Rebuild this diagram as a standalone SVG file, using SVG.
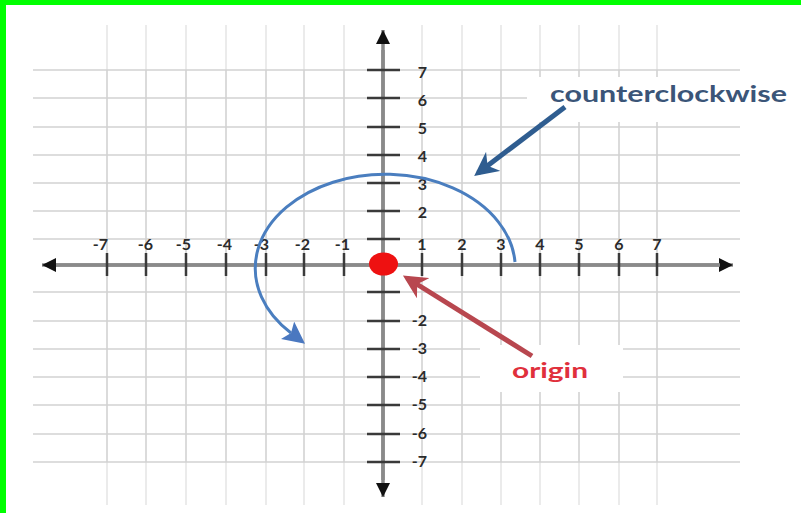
<svg xmlns="http://www.w3.org/2000/svg" width="801" height="513" viewBox="0 0 801 513">
<defs>
<style>
.grid line{stroke:#d2d2d2;stroke-width:1.6}
.gridx line{stroke:#e6e6e6;stroke-width:1.6}
.axis{stroke:#8a8a8a;stroke-width:3.5}
.tick line{stroke:#3a3a3a;stroke-width:2.5}
.num{font-family:Lato,"Liberation Sans",sans-serif;font-weight:700;font-size:16px;fill:#2b2b2b}
.lbl{font-family:Lato,"Liberation Sans",sans-serif;font-weight:700}
</style>
<marker id="axhead" viewBox="0 0 10 10" refX="10" refY="5" markerWidth="16" markerHeight="14" markerUnits="userSpaceOnUse" orient="auto"><path d="M0,0 L10,5 L0,10 Z" fill="#111"/></marker>
<marker id="bluehead" viewBox="0 0 10 10" refX="2" refY="5" markerWidth="22" markerHeight="22" markerUnits="userSpaceOnUse" orient="auto"><path d="M0,0 L10,5 L0,10 L2,5 Z" fill="#4a78c0"/></marker>
<marker id="navyhead" viewBox="0 0 10 10" refX="8" refY="5" markerWidth="24" markerHeight="24" markerUnits="userSpaceOnUse" orient="auto"><path d="M0,0 L10,5 L0,10 L3,5 Z" fill="#2f5d90"/></marker>
<marker id="redhead" viewBox="0 0 10 10" refX="8" refY="5" markerWidth="24" markerHeight="24" markerUnits="userSpaceOnUse" orient="auto"><path d="M0,0 L10,5 L0,10 L3,5 Z" fill="#b8474f"/></marker>
</defs>
<rect x="0" y="0" width="801" height="513" fill="#ffffff"/>
<rect x="0" y="0" width="801" height="5" fill="#00ff00"/>
<rect x="0" y="0" width="6" height="513" fill="#00ff00"/>

<g id="grid">
<g class="gridx">
<line x1="107" y1="25" x2="107" y2="70"/><line x1="146" y1="25" x2="146" y2="70"/><line x1="186" y1="25" x2="186" y2="70"/><line x1="226" y1="25" x2="226" y2="70"/><line x1="266" y1="25" x2="266" y2="70"/><line x1="304" y1="25" x2="304" y2="70"/><line x1="344" y1="25" x2="344" y2="70"/><line x1="422" y1="25" x2="422" y2="70"/><line x1="462" y1="25" x2="462" y2="70"/><line x1="501" y1="25" x2="501" y2="70"/><line x1="540" y1="25" x2="540" y2="70"/><line x1="579" y1="25" x2="579" y2="70"/><line x1="619" y1="25" x2="619" y2="70"/><line x1="657" y1="25" x2="657" y2="70"/>
<line x1="107" y1="462" x2="107" y2="505"/><line x1="146" y1="462" x2="146" y2="505"/><line x1="186" y1="462" x2="186" y2="505"/><line x1="226" y1="462" x2="226" y2="505"/><line x1="266" y1="462" x2="266" y2="505"/><line x1="304" y1="462" x2="304" y2="505"/><line x1="344" y1="462" x2="344" y2="505"/><line x1="422" y1="462" x2="422" y2="505"/><line x1="462" y1="462" x2="462" y2="505"/><line x1="501" y1="462" x2="501" y2="505"/><line x1="540" y1="462" x2="540" y2="505"/><line x1="579" y1="462" x2="579" y2="505"/><line x1="619" y1="462" x2="619" y2="505"/><line x1="657" y1="462" x2="657" y2="505"/>
</g>
<g class="grid">
<line x1="107" y1="70" x2="107" y2="462"/><line x1="146" y1="70" x2="146" y2="462"/><line x1="186" y1="70" x2="186" y2="462"/><line x1="226" y1="70" x2="226" y2="462"/><line x1="266" y1="70" x2="266" y2="462"/><line x1="304" y1="70" x2="304" y2="462"/><line x1="344" y1="70" x2="344" y2="462"/><line x1="422" y1="70" x2="422" y2="462"/><line x1="462" y1="70" x2="462" y2="462"/><line x1="501" y1="70" x2="501" y2="462"/><line x1="540" y1="70" x2="540" y2="462"/><line x1="579" y1="70" x2="579" y2="462"/><line x1="619" y1="70" x2="619" y2="462"/><line x1="657" y1="70" x2="657" y2="462"/>
<line x1="33" y1="70" x2="740" y2="70"/><line x1="33" y1="98" x2="740" y2="98"/><line x1="33" y1="127" x2="740" y2="127"/><line x1="33" y1="155" x2="740" y2="155"/><line x1="33" y1="183" x2="740" y2="183"/><line x1="33" y1="211" x2="740" y2="211"/><line x1="33" y1="239" x2="740" y2="239"/>
<line x1="33" y1="292" x2="740" y2="292"/><line x1="33" y1="321" x2="740" y2="321"/><line x1="33" y1="349" x2="740" y2="349"/><line x1="33" y1="377" x2="740" y2="377"/><line x1="33" y1="405" x2="740" y2="405"/><line x1="33" y1="434" x2="740" y2="434"/><line x1="33" y1="462" x2="740" y2="462"/>
</g>
</g>

<g id="axes">
<line class="axis" x1="50" y1="265" x2="733" y2="265" marker-end="url(#axhead)"/>
<line class="axis" x1="720" y1="265" x2="42" y2="265" marker-end="url(#axhead)"/>
<line class="axis" x1="383" y1="480" x2="383" y2="30" marker-end="url(#axhead)"/>
<line class="axis" x1="383" y1="50" x2="383" y2="497" marker-end="url(#axhead)"/>
<g class="tick">
<line x1="107" y1="253" x2="107" y2="276"/><line x1="146" y1="253" x2="146" y2="276"/><line x1="186" y1="253" x2="186" y2="276"/><line x1="226" y1="253" x2="226" y2="276"/><line x1="266" y1="253" x2="266" y2="276"/><line x1="304" y1="253" x2="304" y2="276"/><line x1="344" y1="253" x2="344" y2="276"/><line x1="422" y1="253" x2="422" y2="276"/><line x1="462" y1="253" x2="462" y2="276"/><line x1="501" y1="253" x2="501" y2="276"/><line x1="540" y1="253" x2="540" y2="276"/><line x1="579" y1="253" x2="579" y2="276"/><line x1="619" y1="253" x2="619" y2="276"/><line x1="657" y1="253" x2="657" y2="276"/>
<line x1="367" y1="70" x2="400" y2="70"/><line x1="367" y1="98" x2="400" y2="98"/><line x1="367" y1="127" x2="400" y2="127"/><line x1="367" y1="155" x2="400" y2="155"/><line x1="367" y1="183" x2="400" y2="183"/><line x1="367" y1="211" x2="400" y2="211"/><line x1="367" y1="239" x2="400" y2="239"/>
<line x1="367" y1="292" x2="400" y2="292"/><line x1="367" y1="321" x2="400" y2="321"/><line x1="367" y1="349" x2="400" y2="349"/><line x1="367" y1="377" x2="400" y2="377"/><line x1="367" y1="405" x2="400" y2="405"/><line x1="367" y1="434" x2="400" y2="434"/><line x1="367" y1="462" x2="400" y2="462"/>
</g>
</g>

<g id="axis-labels" class="num">
<text x="108" y="250" text-anchor="end">-7</text>
<text x="153" y="250" text-anchor="end">-6</text>
<text x="191" y="250" text-anchor="end">-5</text>
<text x="232" y="250" text-anchor="end">-4</text>
<text x="269" y="250" text-anchor="end">-3</text>
<text x="310" y="250" text-anchor="end">-2</text>
<text x="350" y="250" text-anchor="end">-1</text>
<text x="422" y="250" text-anchor="middle">1</text>
<text x="462" y="250" text-anchor="middle">2</text>
<text x="501" y="250" text-anchor="middle">3</text>
<text x="540" y="250" text-anchor="middle">4</text>
<text x="579" y="250" text-anchor="middle">5</text>
<text x="619" y="250" text-anchor="middle">6</text>
<text x="657" y="250" text-anchor="middle">7</text>
<text x="427" y="78" text-anchor="end">7</text>
<text x="427" y="106" text-anchor="end">6</text>
<text x="427" y="134" text-anchor="end">5</text>
<text x="427" y="162" text-anchor="end">4</text>
<text x="427" y="190" text-anchor="end">3</text>
<text x="427" y="218" text-anchor="end">2</text>
<text x="427" y="326" text-anchor="end">-2</text>
<text x="427" y="354" text-anchor="end">-3</text>
<text x="427" y="382" text-anchor="end">-4</text>
<text x="427" y="410" text-anchor="end">-5</text>
<text x="427" y="439" text-anchor="end">-6</text>
<text x="427" y="467" text-anchor="end">-7</text>
</g>

<g id="connectors">
<path d="M 515 262 A 130 94 0 1 0 291 333" fill="none" stroke="#4a7ebf" stroke-width="3" marker-end="url(#bluehead)"/>
</g>

<g id="origin-dot">
<ellipse cx="383.5" cy="264" rx="14.5" ry="11.5" fill="#ee1111"/>
</g>

<g id="label-counterclockwise">
<rect x="527" y="77" width="272" height="45" fill="#ffffff"/>
<text class="lbl" x="550" y="102" font-size="22" fill="#3b5578" textLength="237" lengthAdjust="spacingAndGlyphs">counterclockwise</text>
</g>

<g id="label-origin">
<rect x="480" y="345" width="143" height="47" fill="#ffffff"/>
<text class="lbl" x="512" y="378" font-size="21" fill="#e0303c" textLength="76" lengthAdjust="spacingAndGlyphs">origin</text>
</g>

<g id="pointer-arrows">
<line x1="565" y1="107" x2="478" y2="173" stroke="#2f5d90" stroke-width="5" marker-end="url(#navyhead)"/>
<line x1="532" y1="356" x2="407" y2="278" stroke="#b8474f" stroke-width="5" marker-end="url(#redhead)"/>
</g>
</svg>
